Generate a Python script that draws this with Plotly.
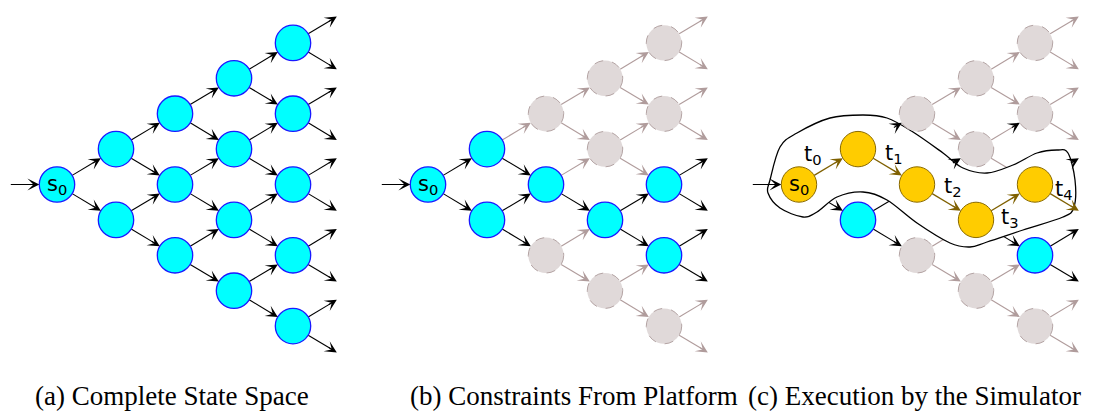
import plotly.graph_objects as go
import math

# ---------------- data ----------------
captions = ["(a) Complete State Space", "(b) Constraints From Platform", "(c) Execution by the Simulator"]
start_label = "s<sub>0</sub>"
path_labels = ["t<sub>0</sub>", "t<sub>1</sub>", "t<sub>2</sub>", "t<sub>3</sub>", "t<sub>4</sub>"]

# node states per level (c = reachable/cyan, g = pruned/gray, y = executed/gold)
states_a = [["c"], ["c", "c"], ["c", "c", "c"], ["c", "c", "c", "c"], ["c", "c", "c", "c", "c"]]
states_b = [["c"], ["c", "c"], ["g", "c", "g"], ["g", "g", "c", "g"], ["g", "g", "c", "c", "g"]]
states_c = [["y"], ["y", "c"], ["g", "y", "g"], ["g", "g", "y", "g"], ["g", "g", "y", "c", "g"]]

# edges keyed by (level, row, 'u'|'d')
black_b = [(0, 0, "u"), (0, 0, "d"), (1, 0, "d"), (1, 1, "u"), (1, 1, "d"), (2, 1, "d"),
           (3, 2, "u"), (3, 2, "d"), (4, 2, "u"), (4, 2, "d"), (4, 3, "u"), (4, 3, "d")]
path_c = [(0, 0, "u"), (1, 0, "d"), (2, 1, "d"), (3, 2, "u"), (4, 2, "d")]
black_c = [(0, 0, "d"), (1, 0, "u"), (1, 1, "u"), (1, 1, "d"), (2, 1, "u"), (3, 2, "d"),
           (4, 2, "u"), (4, 3, "u"), (4, 3, "d")]
black_head_only_c = [(3, 1, "u")]
hidden_head_c = [(1, 1, "u"), (2, 2, "u"), (3, 1, "d")]

# outline around the executed trace (panel c)
contour_x = [770, 780, 797, 830, 863, 887, 913, 943, 963, 987, 1013, 1037, 1057, 1068,
             1075, 1074, 1063, 1023, 987, 970, 950, 917, 887, 863, 837, 817, 803, 780, 768]
contour_y = [180, 147, 133, 118, 115, 118, 132, 153, 168, 173, 165, 153, 150, 153,
             180, 207, 217, 230, 242, 247, 243, 223, 200, 192, 197, 212, 217, 208, 193]

# ---------------- geometry / style ----------------
W, H = 1094, 412
X0 = [57, 428, 799]
YC = 184.5
DX, DY, R = 59.0, 35.4, 17.7
CAPTION_X = [172, 574, 914]
CAPTION_Y = 396

CYAN, CYAN_LINE = "#00ffff", "#1a1aff"
GRAY, GRAY_LINE, GRAY_EDGE = "#e0d9d9", "#b4a4a4", "#b09c9c"
GOLD, GOLD_LINE, GOLD_EDGE = "#ffcc00", "#8a6a00", "#7f6000"
BLACK = "#000000"


def pos(p, l, r):
    return X0[p] + l * DX, YC + (2 * r - l) * DY


shapes_lines, shapes_top, annotations = [], [], []


def edge(p, l, r, d, line_col, head_col, show_head=True, top=False, width=1.1):
    x1, y1 = pos(p, l, r)
    x2, y2 = pos(p, l + 1, r + (1 if d == "d" else 0))
    L = math.hypot(x2 - x1, y2 - y1)
    ux, uy = (x2 - x1) / L, (y2 - y1) / L
    sx, sy = x1 + ux * R, y1 + uy * R
    tx, ty = x2 - ux * R, y2 - uy * R
    shp = dict(type="line", xref="x", yref="y", x0=sx, y0=sy, x1=tx - ux * 4, y1=ty - uy * 4,
               line=dict(color=line_col, width=width))
    (shapes_top if top else shapes_lines).append(shp)
    if show_head:
        annotations.append(dict(x=tx, y=ty, xref="x", yref="y", ax=-ux * 11, ay=-uy * 11,
                                text="", showarrow=True, arrowhead=3, arrowsize=1.8,
                                arrowwidth=1.1, arrowcolor=head_col, standoff=0))


all_states = [states_a, states_b, states_c]
for p in range(3):
    for l in range(5):
        for r in range(l + 1):
            for d in ("u", "d"):
                key = (l, r, d)
                if p == 0:
                    edge(p, l, r, d, BLACK, BLACK)
                elif p == 1:
                    if key in black_b:
                        edge(p, l, r, d, BLACK, BLACK)
                    else:
                        edge(p, l, r, d, GRAY_EDGE, GRAY_EDGE)
                else:
                    if key in path_c:
                        edge(p, l, r, d, GOLD_EDGE, GOLD_EDGE, top=True, width=1.3)
                    elif key in black_c:
                        edge(p, l, r, d, BLACK, BLACK, show_head=key not in hidden_head_c)
                    elif key in black_head_only_c:
                        edge(p, l, r, d, GRAY_EDGE, BLACK, show_head=key not in hidden_head_c)
                    else:
                        edge(p, l, r, d, GRAY_EDGE, GRAY_EDGE, show_head=key not in hidden_head_c)

# smooth closed contour (Catmull-Rom -> cubic Bezier)
pts = list(zip(contour_x, contour_y))
n = len(pts)
path = f"M {pts[0][0]},{pts[0][1]}"
for i in range(n):
    p0, p1, p2, p3 = pts[i - 1], pts[i], pts[(i + 1) % n], pts[(i + 2) % n]
    c1 = (p1[0] + (p2[0] - p0[0]) / 6, p1[1] + (p2[1] - p0[1]) / 6)
    c2 = (p2[0] - (p3[0] - p1[0]) / 6, p2[1] - (p3[1] - p1[1]) / 6)
    path += f" C {c1[0]:.1f},{c1[1]:.1f} {c2[0]:.1f},{c2[1]:.1f} {p2[0]},{p2[1]}"
path += " Z"
contour_shape = dict(type="path", xref="x", yref="y", path=path, fillcolor="white",
                     line=dict(color=BLACK, width=1.3))

node_shapes = []
style = {"c": (CYAN, CYAN_LINE, "solid", 1.3), "g": (GRAY, GRAY_LINE, "dash", 1.0),
         "y": (GOLD, GOLD_LINE, "solid", 1.0)}
for p, st in enumerate(all_states):
    for l, row in enumerate(st):
        for r, s in enumerate(row):
            cx, cy = pos(p, l, r)
            f, lc, dash, w = style[s]
            node_shapes.append(dict(type="circle", xref="x", yref="y", x0=cx - R, x1=cx + R,
                                    y0=cy - R, y1=cy + R, fillcolor=f,
                                    line=dict(color=lc, width=w, dash=dash)))
    # initial arrow & start label
    sx, sy = pos(p, 0, 0)
    annotations.append(dict(x=sx - R, y=sy, xref="x", yref="y", ax=-30, ay=0, text="",
                            showarrow=True, arrowhead=3, arrowsize=1.8, arrowwidth=1.1,
                            arrowcolor=BLACK, standoff=0))
    annotations.append(dict(x=sx, y=sy, xref="x", yref="y", text=start_label, showarrow=False,
                            font=dict(family="DejaVu Sans", size=21, color=BLACK)))
    annotations.append(dict(x=CAPTION_X[p], y=CAPTION_Y, xref="x", yref="y",
                            text=captions[p], showarrow=False,
                            font=dict(family="Liberation Serif", size=27, color=BLACK)))

# t labels near executed edges
label_off = [(-16, -12), (6, -13), (6, -15), (4, 16), (-1, -12)]
for k, (l, r, d) in enumerate(path_c):
    x1, y1 = pos(2, l, r)
    x2, y2 = pos(2, l + 1, r + (1 if d == "d" else 0))
    mx, my = (x1 + x2) / 2 + label_off[k][0], (y1 + y2) / 2 + label_off[k][1]
    annotations.append(dict(x=mx, y=my, xref="x", yref="y", text=path_labels[k], showarrow=False,
                            font=dict(family="DejaVu Sans", size=21, color=BLACK)))

fig = go.Figure()
fig.update_layout(
    width=W, height=H, margin=dict(l=0, r=0, t=0, b=0),
    paper_bgcolor="white", plot_bgcolor="white", showlegend=False,
    xaxis=dict(range=[0, W], visible=False, fixedrange=True),
    yaxis=dict(range=[H, 0], visible=False, fixedrange=True),
    shapes=shapes_lines + [contour_shape] + shapes_top + node_shapes,
    annotations=annotations,
)
fig.write_html("out.html", config={"displayModeBar": False},
               post_script="document.body.style.margin='0';document.body.style.overflow='hidden';")
